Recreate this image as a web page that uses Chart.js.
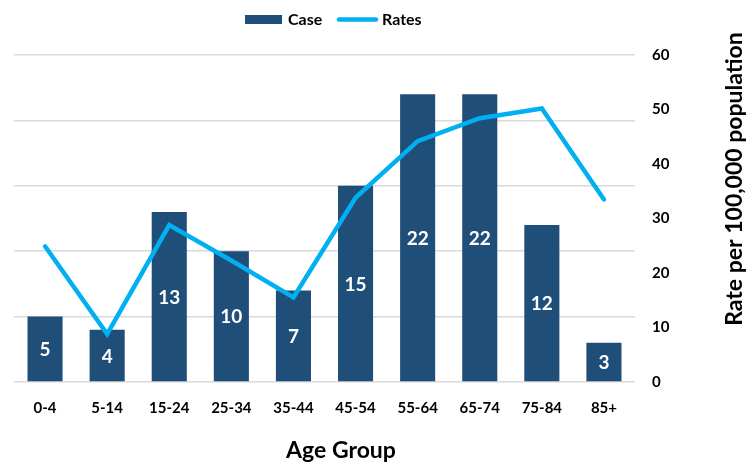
<!DOCTYPE html>
<html>
<head>
<meta charset="utf-8">
<script src="https://cdn.jsdelivr.net/npm/chart.js@4.4.1/dist/chart.umd.min.js"></script>
<style>
  html, body { margin: 0; padding: 0; background: #fff; }
  #contenedor { width: 746px; height: 465px; position: relative; }
</style>
</head>
<body>
<div id="contenedor"><canvas id="graficoEdad"></canvas></div>
<script>
// Datos
const gruposEdad = ['0-4', '5-14', '15-24', '25-34', '35-44', '45-54', '55-64', '65-74', '75-84', '85+'];
const casos = [5, 4, 13, 10, 7, 15, 22, 22, 12, 3];
const tasas = [24.9, 8.8, 28.8, 22.3, 15.5, 33.8, 44.2, 48.4, 50.2, 33.5];
const ticksTasa = [0, 10, 20, 30, 40, 50, 60];
const ticksCasos = [0, 5, 10, 15, 20, 25];

const AZUL = '#1F4E79';
const CELESTE = '#00B0F0';
const FUENTE = 'Lato, "Open Sans", sans-serif';

// Etiquetas, leyenda y titulos dibujados a mano
const extras = {
    id: 'extras',
    afterDatasetsDraw(chart) {
        const ctx = chart.ctx;
        const meta = chart.getDatasetMeta(0);
        ctx.save();
        ctx.fillStyle = '#fff';
        ctx.font = 'bold 19px ' + FUENTE;
        ctx.textAlign = 'center';
        ctx.textBaseline = 'middle';
        meta.data.forEach((barra, i) => {
            const medio = (barra.y + barra.base) / 2;
            ctx.fillText(String(casos[i]), barra.x, medio + 1);
        });
        ctx.restore();
    },
    afterDraw(chart) {
        const ctx = chart.ctx;
        ctx.save();
        // leyenda
        ctx.fillStyle = AZUL;
        ctx.fillRect(245, 15, 37, 9);
        ctx.strokeStyle = CELESTE;
        ctx.lineWidth = 4.5;
        ctx.lineCap = 'round';
        ctx.beginPath();
        ctx.moveTo(339, 19.5);
        ctx.lineTo(376, 19.5);
        ctx.stroke();
        ctx.fillStyle = '#000';
        ctx.font = 'bold 16px ' + FUENTE;
        ctx.textAlign = 'left';
        ctx.textBaseline = 'middle';
        ctx.fillText('Case', 288, 19.5);
        ctx.fillText('Rates', 382, 19.5);

        // titulo eje x
        ctx.font = 'bold 23px ' + FUENTE;
        ctx.textAlign = 'center';
        ctx.fillText('Age Group', 341, 451);

        // titulo eje derecho, girado
        ctx.translate(735, 179);
        ctx.rotate(-Math.PI / 2);
        ctx.fillText('Rate per 100,000 population', 0, 0);
        ctx.restore();
    }
};

const ctx = document.getElementById('graficoEdad').getContext('2d');
new Chart(ctx, {
    data: {
        labels: gruposEdad,
        datasets: [
            {
                type: 'bar',
                label: 'Case',
                data: casos,
                backgroundColor: AZUL,
                borderWidth: 0,
                categoryPercentage: 1,
                barPercentage: 0.565,
                yAxisID: 'y',
                order: 2
            },
            {
                type: 'line',
                label: 'Rates',
                data: tasas,
                borderColor: CELESTE,
                backgroundColor: CELESTE,
                borderWidth: 4.5,
                pointRadius: 0,
                tension: 0,
                borderCapStyle: 'round',
                borderJoinStyle: 'miter',
                yAxisID: 'y1',
                order: 1
            }
        ]
    },
    options: {
        responsive: true,
        maintainAspectRatio: false,
        animation: false,
        layout: { padding: { left: 14, top: 55, right: 0, bottom: 0 } },
        plugins: {
            legend: { display: false },
            tooltip: { enabled: false }
        },
        scales: {
            x: {
                grid: { display: false, drawTicks: false },
                border: { display: false },
                ticks: {
                    color: '#000',
                    padding: 17,
                    maxRotation: 0,
                    font: { family: FUENTE, size: 15, weight: 'bold' }
                },
                afterFit: (eje) => { eje.height = 83; }
            },
            y: {
                position: 'left',
                min: ticksCasos[0],
                max: ticksCasos[ticksCasos.length - 1],
                afterBuildTicks: (eje) => { eje.ticks = ticksCasos.map(v => ({ value: v })); },
                ticks: { display: false },
                grid: { color: '#D9D9D9', lineWidth: 1.5, drawTicks: false },
                border: { display: false },
                afterFit: (eje) => { eje.width = 0; }
            },
            y1: {
                position: 'right',
                min: ticksTasa[0],
                max: ticksTasa[ticksTasa.length - 1],
                afterBuildTicks: (eje) => { eje.ticks = ticksTasa.map(v => ({ value: v })); },
                grid: { display: false, drawTicks: false },
                border: { display: false },
                ticks: {
                    color: '#000',
                    padding: 17,
                    font: { family: FUENTE, size: 15, weight: 'bold' }
                },
                afterFit: (eje) => { eje.width = 111; }
            }
        }
    },
    plugins: [extras]
});
</script>
</body>
</html>
